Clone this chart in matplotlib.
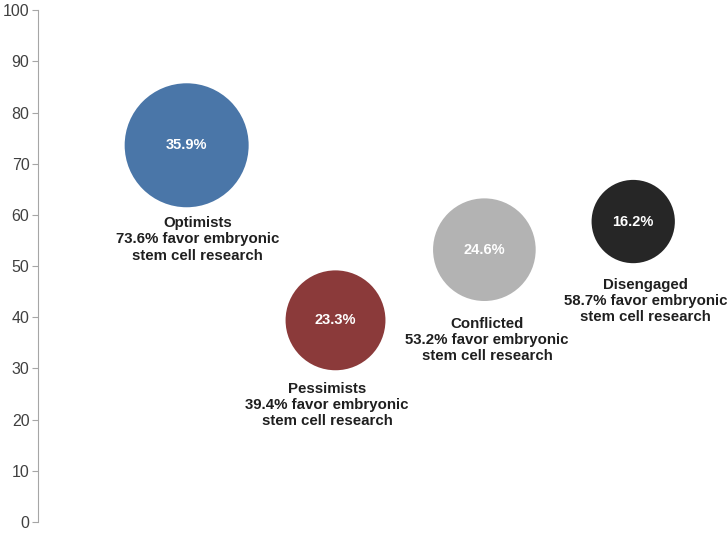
import matplotlib.pyplot as plt
import numpy as np

plt.rcParams['font.family'] = ['Liberation Sans', 'DejaVu Sans']

groups = ["Optimists", "Pessimists", "Conflicted", "Disengaged"]
x_pos = [1, 2, 3, 4]
favor = [73.6, 39.4, 53.2, 58.7]       # % favor embryonic stem cell research
share = [35.9, 23.3, 24.6, 16.2]       # bubble size (% of people)
colors = ["#4a76a8", "#8b3a3a", "#b3b3b3", "#262626"]
label_dx = [8, -6, 2, 9]                # nudge of the group labels (pt)
label_dy = [0, -2, -5, -4]

fig = plt.figure(figsize=(7.27, 5.34), dpi=100)
ax = fig.add_axes([0.052, 0.0225, 0.948, 0.9585])

sizes = [222 * v for v in share]
ax.scatter(x_pos, favor, s=sizes, c=colors, edgecolors="none", zorder=3, clip_on=False)

for x, y, v, s, name, dx, dy in zip(x_pos, favor, share, sizes, groups, label_dx, label_dy):
    ax.text(x, y, f"{v}%", ha="center", va="center", color="white",
            fontsize=10.5, fontweight="bold", zorder=4)
    r = np.sqrt(s) / 2
    ax.annotate(f"{name}\n{y}% favor embryonic\nstem cell research",
                xy=(x, y), xytext=(dx, -(r + 6.5) + dy), textcoords="offset points",
                ha="center", va="top", fontsize=10.8, fontweight="bold",
                color="#1f1f1f", linespacing=1.2)

ax.set_xlim(0, 4.63)
ax.set_ylim(0, 100)
ax.set_yticks(range(0, 101, 10))
ax.set_xticks([])
for side in ["top", "right", "bottom"]:
    ax.spines[side].set_visible(False)
ax.spines["left"].set_color("#a6a6a6")
ax.tick_params(axis="y", direction="out", length=4, color="#a6a6a6",
               labelsize=11.5, labelcolor="#404040", pad=2)

fig.savefig("out.png", dpi=100)
